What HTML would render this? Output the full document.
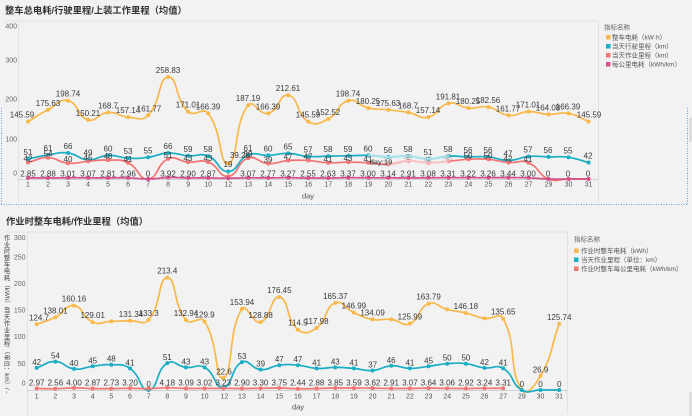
<!DOCTYPE html>
<html><head><meta charset="utf-8"><style>
html,body{margin:0;padding:0;background:#f2f2f2;}
#wrap{position:relative;width:692px;height:416px;overflow:hidden;background:#f2f2f2;font-family:"Liberation Sans","Noto Sans CJK SC",sans-serif;}
svg{position:absolute;left:0;top:0;}
</style></head><body><div id="wrap">
<svg width="692" height="416" viewBox="0 0 692 416" xmlns="http://www.w3.org/2000/svg" font-family="Liberation Sans, Noto Sans CJK SC, sans-serif">
<defs>
<marker id="mY" markerWidth="6" markerHeight="6" refX="3" refY="3" markerUnits="userSpaceOnUse"><circle cx="3" cy="3" r="2" fill="#f9b94a"/></marker>
<marker id="mT" markerWidth="6" markerHeight="6" refX="3" refY="3" markerUnits="userSpaceOnUse"><circle cx="3" cy="3" r="2" fill="#1aaec4"/></marker>
<marker id="mR" markerWidth="6" markerHeight="6" refX="3" refY="3" markerUnits="userSpaceOnUse"><circle cx="3" cy="3" r="2" fill="#f27575"/></marker>
<marker id="mM" markerWidth="6" markerHeight="6" refX="3" refY="3" markerUnits="userSpaceOnUse"><circle cx="3" cy="3" r="2" fill="#d4508a"/></marker>
</defs>
<rect x="0" y="0" width="692" height="416" fill="#f2f2f2"/>

<!-- titles -->
<text x="5" y="13.5" font-size="9.3" font-weight="bold" fill="#333">整车总电耗/行驶里程/上装工作里程（均值）</text>
<text x="6" y="224.5" font-size="9.3" font-weight="bold" fill="#333">作业时整车电耗/作业里程（均值）</text>

<!-- vertical y-axis title (bottom chart) -->
<g font-size="6.3" fill="#444" text-anchor="middle">
<text x="7" y="240.2">作</text><text x="7" y="246.8">业</text><text x="7" y="253.4">时</text><text x="7" y="260">整</text><text x="7" y="266.6">车</text><text x="7" y="273.2">电</text><text x="7" y="279.8">耗</text>
<text x="7" y="312.5">当</text><text x="7" y="319.1">天</text><text x="7" y="325.7">作</text><text x="7" y="332.3">业</text><text x="7" y="338.9">里</text><text x="7" y="345.5">程</text>
</g>
<g font-size="6.3" fill="#444">
<text transform="translate(4.8,281.5) rotate(90)" x="0" y="0">（kWh）/</text>
<text transform="translate(4.8,348) rotate(90)" x="0" y="0">（单位：km）/ -</text>
</g>

<!-- frames -->
<g stroke="#e2e2e2" stroke-width="1" fill="none">
<line x1="4" y1="21" x2="598" y2="21"/>
<line x1="18.5" y1="21" x2="18.5" y2="201"/>
<line x1="598.5" y1="21" x2="598.5" y2="203"/>
<line x1="6" y1="232" x2="568" y2="232"/>
<line x1="27.5" y1="232" x2="27.5" y2="416"/>
<line x1="567.5" y1="232" x2="567.5" y2="414"/>
</g>
<line x1="18" y1="179.5" x2="598" y2="179.5" stroke="#d0d0d0" stroke-width="1"/>
<line x1="27" y1="390.5" x2="567" y2="390.5" stroke="#d0d0d0" stroke-width="1"/>

<!-- selection box -->
<g stroke="#6d9fe0" stroke-width="1" stroke-dasharray="1,1.5" fill="none">
<line x1="1.5" y1="108" x2="1.5" y2="204"/>
<line x1="1" y1="204.5" x2="687" y2="204.5"/>
<line x1="687.5" y1="108" x2="687.5" y2="204"/>
</g>
<g stroke="#d6d6d6" stroke-width="2">
<line x1="690.5" y1="118" x2="690.5" y2="142"/>
<line x1="690.5" y1="392" x2="690.5" y2="416"/>
</g>

<!-- y axis labels -->
<g font-size="7" fill="#666" text-anchor="end">
<text x="17" y="28.5">400</text>
<text x="17" y="62.5">300</text>
<text x="17" y="101.5">200</text>
<text x="17" y="141.5">100</text>
<text x="17" y="175.5">0</text>
<text x="25.5" y="239.8">300</text>
<text x="25.5" y="259.5">250</text>
<text x="25.5" y="286">200</text>
<text x="25.5" y="312.5">150</text>
<text x="25.5" y="339.2">100</text>
<text x="25.5" y="365.8">50</text>
<text x="25.5" y="385.5">0</text>
</g>

<!-- x axis labels top -->
<g font-size="7" fill="#555" text-anchor="middle">
<text x="28" y="186.5">1</text><text x="48.02" y="186.5">2</text><text x="68.04" y="186.5">3</text><text x="88.06" y="186.5">4</text><text x="108.08" y="186.5">5</text><text x="128.1" y="186.5">6</text><text x="148.12" y="186.5">7</text><text x="168.14" y="186.5">8</text><text x="188.16" y="186.5">9</text><text x="208.18" y="186.5">10</text><text x="228.2" y="186.5">12</text><text x="248.22" y="186.5">13</text><text x="268.24" y="186.5">14</text><text x="288.26" y="186.5">15</text><text x="308.28" y="186.5">16</text><text x="328.3" y="186.5">17</text><text x="348.32" y="186.5">18</text><text x="368.34" y="186.5">19</text><text x="388.36" y="186.5">20</text><text x="408.38" y="186.5">21</text><text x="428.4" y="186.5">22</text><text x="448.42" y="186.5">23</text><text x="468.44" y="186.5">24</text><text x="488.46" y="186.5">25</text><text x="508.48" y="186.5">26</text><text x="528.5" y="186.5">27</text><text x="548.52" y="186.5">29</text><text x="568.54" y="186.5">30</text><text x="588.56" y="186.5">31</text>
<text x="308" y="198.5" font-size="7.5">day</text>
</g>
<!-- x axis labels bottom -->
<g font-size="7" fill="#555" text-anchor="middle">
<text x="36.7" y="398.5">1</text><text x="55.36" y="398.5">2</text><text x="74.02" y="398.5">3</text><text x="92.68" y="398.5">4</text><text x="111.34" y="398.5">5</text><text x="130" y="398.5">6</text><text x="148.66" y="398.5">7</text><text x="167.32" y="398.5">8</text><text x="185.98" y="398.5">9</text><text x="204.64" y="398.5">10</text><text x="224.5" y="398.5">12</text><text x="241.96" y="398.5">13</text><text x="260.62" y="398.5">14</text><text x="279.28" y="398.5">15</text><text x="297.94" y="398.5">16</text><text x="316.6" y="398.5">17</text><text x="335.26" y="398.5">18</text><text x="353.92" y="398.5">19</text><text x="372.58" y="398.5">20</text><text x="391.24" y="398.5">21</text><text x="409.9" y="398.5">22</text><text x="428.56" y="398.5">23</text><text x="447.22" y="398.5">24</text><text x="465.88" y="398.5">25</text><text x="484.54" y="398.5">26</text><text x="503.2" y="398.5">27</text><text x="521.86" y="398.5">29</text><text x="540.52" y="398.5">30</text><text x="559.18" y="398.5">31</text>
<text x="298" y="409.5" font-size="7.5">day</text>
</g>

<!-- TOP SERIES -->
<g fill="none" stroke-linejoin="round" stroke-linecap="round">
<polyline class="sm" stroke="#f9b94a" stroke-width="1.7" marker-start="url(#mY)" marker-mid="url(#mY)" marker-end="url(#mY)" points="28,121.6 48.02,109.8 68.04,100.7 88.06,119.8 108.08,112.5 128.1,117.1 148.12,115.3 168.14,77 188.16,111.6 208.18,113.4 228.2,163.5 248.22,105.2 268.24,113.4 288.26,95.2 308.28,121.6 328.3,118.9 348.32,100.7 368.34,108 388.36,109.8 408.38,112.5 428.4,117.1 448.42,103.4 468.44,108 488.46,107.1 508.48,115.3 528.5,111.6 548.52,114.4 568.54,113.4 588.56,121.6"/>
<polyline class="sm" stroke="#1aaec4" stroke-width="1.7" marker-start="url(#mT)" marker-mid="url(#mT)" marker-end="url(#mT)" points="28,158.9 48.02,155 68.04,153 88.06,159.7 108.08,155.4 128.1,158.1 148.12,157.3 168.14,153 188.16,155.8 208.18,156.1 228.2,171.5 248.22,155 268.24,155.4 288.26,153.4 308.28,156.5 328.3,156.1 348.32,155.8 368.34,155.4 388.36,156.9 408.38,156.1 428.4,158.9 448.42,156.1 468.44,156.9 488.46,156.9 508.48,160.5 528.5,156.5 548.52,156.9 568.54,157.3 588.56,162.5"/>
<polyline class="sm" stroke="#f27575" stroke-width="1.7" marker-start="url(#mR)" marker-mid="url(#mR)" marker-end="url(#mR)" points="28,162.5 48.02,157.7 68.04,163.2 88.06,161.3 108.08,160.1 128.1,162.8 148.12,179 168.14,158.9 188.16,162.1 208.18,162.1 228.2,176.2 248.22,158.1 268.24,163.6 288.26,160.5 308.28,160.5 328.3,162.8 348.32,162.1 368.34,162.8 388.36,164.4 408.38,160.9 428.4,162.8 448.42,161.3 468.44,159.3 488.46,159.3 508.48,162.5 528.5,162.8 548.52,179 568.54,179 588.56,179"/>
<polyline class="sm" stroke="#a6e3ec" stroke-width="2" points="368.34,155.4 388.36,156.9 408.38,156.1 428.4,158.9 448.42,156.1"/>
<polyline class="sm" stroke="#f7c4c4" stroke-width="2" points="388.36,164.4 408.38,160.9 428.4,162.8 448.42,161.3"/>
<polyline class="sm" stroke="#d4508a" stroke-width="1.7" marker-start="url(#mM)" marker-mid="url(#mM)" marker-end="url(#mM)" points="28,177.9 48.02,177.9 68.04,177.8 88.06,177.8 108.08,177.9 128.1,177.8 148.12,179 168.14,177.5 188.16,177.9 208.18,177.9 228.2,178.2 248.22,177.8 268.24,177.9 288.26,177.7 308.28,178 328.3,178 348.32,177.7 368.34,177.8 388.36,177.8 408.38,177.9 428.4,177.8 448.42,177.7 468.44,177.7 488.46,177.7 508.48,177.6 528.5,177.8 548.52,179 568.54,179 588.56,179"/>
</g>

<!-- top data labels -->
<g font-size="8" fill="#3a3a3a" text-anchor="middle">
<text x="22" y="117.6">145.59</text><text x="48" y="105.8">175.63</text><text x="68" y="96.7">198.74</text><text x="88" y="115.8">150.21</text><text x="108" y="108.5">168.7</text><text x="128" y="113.1">157.14</text><text x="149" y="111.3">161.77</text><text x="168" y="73">258.83</text><text x="188" y="107.6">171.01</text><text x="208" y="109.4">166.39</text><text x="240" y="158">39.28</text><text x="248" y="101.2">187.19</text><text x="268" y="109.4">166.39</text><text x="288" y="91.2">212.61</text><text x="308" y="117.6">145.59</text><text x="328" y="114.9">152.52</text><text x="348" y="96.7">198.74</text><text x="368" y="104">180.25</text><text x="388" y="105.8">175.63</text><text x="408" y="108.5">168.7</text><text x="428" y="113.1">157.14</text><text x="448" y="99.4">191.81</text><text x="468" y="104">180.25</text><text x="488" y="103.1">182.56</text><text x="508" y="111.3">161.77</text><text x="528" y="107.6">171.01</text><text x="548" y="110.4">164.08</text><text x="568" y="109.4">166.39</text><text x="589" y="117.6">145.59</text>
<text x="28" y="154.9">51</text><text x="48" y="151">61</text><text x="68" y="149">66</text><text x="88" y="155.7">49</text><text x="108" y="151.4">60</text><text x="128" y="154.1">53</text><text x="148" y="153.3">55</text><text x="168" y="149">66</text><text x="188" y="151.8">59</text><text x="208" y="152.1">58</text><text x="228" y="167">19</text><text x="248" y="151">61</text><text x="268" y="151.4">60</text><text x="288" y="149.4">65</text><text x="308" y="152.5">57</text><text x="328" y="152.1">58</text><text x="348" y="151.8">59</text><text x="368" y="151.4">60</text><text x="388" y="152.9">56</text><text x="408" y="152.1">58</text><text x="428" y="154.9">51</text><text x="448" y="152.1">58</text><text x="468" y="152.9">56</text><text x="488" y="152.9">56</text><text x="508" y="156.5">47</text><text x="528" y="152.5">57</text><text x="548" y="152.9">56</text><text x="568" y="153.3">55</text><text x="588" y="158.5">42</text>
<text x="28" y="161.5">42</text><text x="48" y="156.7">54</text><text x="68" y="162.2">40</text><text x="88" y="160.3">45</text><text x="108" y="159.1">48</text><text x="128" y="161.8">41</text><text x="168" y="157.9">51</text><text x="188" y="161.1">43</text><text x="208" y="161.1">43</text><text x="248" y="157.1">53</text><text x="268" y="162.6">39</text><text x="288" y="159.5">47</text><text x="308" y="159.5">47</text><text x="328" y="161.8">41</text><text x="348" y="161.1">43</text><text x="368" y="161.8">41</text><text x="468" y="158.3">50</text><text x="488" y="158.3">50</text><text x="508" y="161.5">42</text><text x="528" y="161.8">41</text>
<g fill="#b9b9b9"><text x="388" y="163.4">37</text><text x="408" y="159.9">46</text><text x="428" y="161.8">41</text><text x="448" y="160.3">45</text></g>
<text x="28" y="176.5">2.85</text><text x="48" y="176.5">2.88</text><text x="68" y="176.5">3.01</text><text x="88" y="176.5">3.07</text><text x="108" y="176.5">2.81</text><text x="128" y="176.5">2.96</text><text x="148" y="176.5">0</text><text x="168" y="176.5">3.92</text><text x="188" y="176.5">2.90</text><text x="208" y="176.5">2.87</text><text x="248" y="176.5">3.07</text><text x="268" y="176.5">2.77</text><text x="288" y="176.5">3.27</text><text x="308" y="176.5">2.55</text><text x="328" y="176.5">2.63</text><text x="348" y="176.5">3.37</text><text x="368" y="176.5">3.00</text><text x="388" y="176.5">3.14</text><text x="408" y="176.5">2.91</text><text x="428" y="176.5">3.08</text><text x="448" y="176.5">3.31</text><text x="468" y="176.5">3.22</text><text x="488" y="176.5">3.26</text><text x="508" y="176.5">3.44</text><text x="528" y="176.5">3.00</text><text x="548" y="176.5">0</text><text x="568" y="176.5">0</text><text x="588" y="176.5">0</text>
<text x="381" y="164.5" font-size="7.5" fill="#333">day:19</text>
</g>

<!-- BOTTOM SERIES -->
<g fill="none" stroke-linejoin="round" stroke-linecap="round">
<polyline class="sm" stroke="#f9b94a" stroke-width="1.7" marker-start="url(#mY)" marker-mid="url(#mY)" marker-end="url(#mY)" points="36.7,324.3 55.36,317.3 74.02,305.6 92.68,322.1 111.34,321.3 130,320.8 148.66,319.8 167.32,277.6 185.98,320 204.64,321.6 223.3,378.1 241.96,308.9 260.62,322.1 279.28,297.1 297.94,329.7 316.6,327.9 335.26,302.9 353.92,312.6 372.58,319.4 391.24,319.4 409.9,323.6 428.56,303.7 447.22,309.4 465.88,313 484.54,318.4 503.2,318.6 521.86,390 540.52,375.8 559.18,323.8"/>
<polyline class="sm" stroke="#1aaec4" stroke-width="1.7" marker-start="url(#mT)" marker-mid="url(#mT)" marker-end="url(#mT)" points="36.7,367.9 55.36,361.6 74.02,368.9 92.68,366.3 111.34,364.7 130,368.4 148.66,390 167.32,363.1 185.98,367.4 204.64,367.4 223.3,387.4 241.96,362.1 260.62,369.5 279.28,365.2 297.94,365.2 316.6,368.4 335.26,367.4 353.92,368.4 372.58,370.5 391.24,365.8 409.9,368.4 428.56,366.3 447.22,363.7 465.88,363.7 484.54,367.9 503.2,368.4 521.86,390 540.52,390 559.18,390"/>
<polyline class="sm" stroke="#f27575" stroke-width="1.7" marker-start="url(#mR)" marker-mid="url(#mR)" marker-end="url(#mR)" points="36.7,388.4 55.36,388.7 74.02,387.9 92.68,388.5 111.34,388.6 130,388.3 148.66,388.6 167.32,387.8 185.98,388.4 204.64,388.4 223.3,388.3 241.96,388.5 260.62,388.3 279.28,388 297.94,388.7 316.6,388.5 335.26,388 353.92,388.1 372.58,388.1 391.24,388.5 409.9,388.4 428.56,388.1 447.22,388.4 465.88,388.5 484.54,388.3 503.2,388.3"/>
</g>

<!-- bottom data labels -->
<g font-size="8" fill="#3a3a3a" text-anchor="middle">
<text x="39" y="320.3">124.7</text><text x="55.4" y="313.3">138.01</text><text x="74" y="301.6">160.16</text><text x="92.7" y="318.1">129.01</text><text x="131" y="316.8">131.34</text><text x="148.7" y="315.8">133.3</text><text x="167.3" y="273.6">213.4</text><text x="186" y="316">132.94</text><text x="204.6" y="317.6">129.9</text><text x="224" y="374.5">22.6</text><text x="242" y="304.9">153.94</text><text x="260.6" y="318.1">128.88</text><text x="279.3" y="293.1">176.45</text><text x="297.9" y="325.7">114.5</text><text x="316.6" y="323.9">117.98</text><text x="335.3" y="298.9">165.37</text><text x="353.9" y="308.6">146.99</text><text x="372.6" y="315.4">134.09</text><text x="409.9" y="319.6">125.99</text><text x="428.6" y="299.7">163.79</text><text x="465.9" y="309">146.18</text><text x="503.2" y="314.6">135.65</text><text x="540.5" y="372.3">26.9</text><text x="559.2" y="320">125.74</text>
<text x="36.7" y="364.9">42</text><text x="55.4" y="358.6">54</text><text x="74" y="365.9">40</text><text x="92.7" y="363.3">45</text><text x="111.3" y="361.7">48</text><text x="130" y="365.4">41</text><text x="148.7" y="386.8">0</text><text x="167.3" y="360.1">51</text><text x="186" y="364.4">43</text><text x="204.6" y="364.4">43</text><text x="242" y="359.1">53</text><text x="260.6" y="366.5">39</text><text x="279.3" y="362.2">47</text><text x="297.9" y="362.2">47</text><text x="316.6" y="365.4">41</text><text x="335.3" y="364.4">43</text><text x="353.9" y="365.4">41</text><text x="372.6" y="367.5">37</text><text x="391.2" y="362.8">46</text><text x="409.9" y="365.4">41</text><text x="428.6" y="363.3">45</text><text x="447.2" y="360.7">50</text><text x="465.9" y="360.7">50</text><text x="484.5" y="364.9">42</text><text x="503.2" y="365.4">41</text><text x="521.9" y="386.8">0</text><text x="540.5" y="386.8">0</text><text x="559.2" y="386.8">0</text>
<text x="36.7" y="385.5">2.97</text><text x="55.4" y="385.5">2.56</text><text x="74" y="385.5">4.00</text><text x="92.7" y="385.5">2.87</text><text x="111.3" y="385.5">2.73</text><text x="130" y="385.5">3.20</text><text x="167.3" y="385.5">4.18</text><text x="186" y="385.5">3.09</text><text x="204.6" y="385.5">3.02</text><text x="223.3" y="385.5">3.23</text><text x="242" y="385.5">2.90</text><text x="260.6" y="385.5">3.30</text><text x="279.3" y="385.5">3.75</text><text x="297.9" y="385.5">2.44</text><text x="316.6" y="385.5">2.88</text><text x="335.3" y="385.5">3.85</text><text x="353.9" y="385.5">3.59</text><text x="372.6" y="385.5">3.62</text><text x="391.2" y="385.5">2.91</text><text x="409.9" y="385.5">3.07</text><text x="428.6" y="385.5">3.64</text><text x="447.2" y="385.5">3.06</text><text x="465.9" y="385.5">2.92</text><text x="484.5" y="385.5">3.24</text><text x="503.2" y="385.5">3.31</text>
</g>

<!-- legends -->
<g font-size="6.5" fill="#555">
<text x="604" y="29.5" fill="#666">指标名称</text>
<rect x="606" y="35" width="4.5" height="4.5" fill="#f9b94a"/><text x="612" y="39.6">整车电耗（kW·h）</text>
<rect x="606" y="44" width="4.5" height="4.5" fill="#1aaec4"/><text x="612" y="48.6">当天行驶里程（km）</text>
<rect x="606" y="53" width="4.5" height="4.5" fill="#f27575"/><text x="612" y="57.6">当天作业里程（km）</text>
<rect x="606" y="62" width="4.5" height="4.5" fill="#d4508a"/><text x="612" y="66.6">每公里电耗（kWh/km）</text>
<text x="574" y="241.5" fill="#666">指标名称</text>
<rect x="574" y="248.5" width="4.5" height="4.5" fill="#f9b94a"/><text x="581" y="253">作业时整车电耗（kWh）</text>
<rect x="574" y="257.5" width="4.5" height="4.5" fill="#1aaec4"/><text x="581" y="262">当天作业里程（单位：km）</text>
<rect x="574" y="266.5" width="4.5" height="4.5" fill="#f27575"/><text x="581" y="271">作业时整车每公里电耗（kWh/km）</text>
</g>
</svg>
</div>
<script>
(function(){
var ns='http://www.w3.org/2000/svg';
var pls=document.querySelectorAll('polyline.sm');
for(var k=0;k<pls.length;k++){
 var pl=pls[k];
 var raw=pl.getAttribute('points').trim().split(/\s+/);
 var P=[];for(var i=0;i<raw.length;i++){var a=raw[i].split(',');P.push([parseFloat(a[0]),parseFloat(a[1])]);}
 var n=P.length,s=0.5,O=[],I=[];
 for(var i=0;i<n;i++){
  var p=P[i],pr=i>0?P[i-1]:p,nx=i<n-1?P[i+1]:p;
  var dx=(nx[0]-pr[0])*s,dy=(nx[1]-pr[1])*s;
  var l0=Math.sqrt((p[0]-pr[0])*(p[0]-pr[0])+(p[1]-pr[1])*(p[1]-pr[1]));
  var l1=Math.sqrt((nx[0]-p[0])*(nx[0]-p[0])+(nx[1]-p[1])*(nx[1]-p[1]));
  var r=(l0+l1)>0?l1/(l0+l1):0.5;
  O.push([p[0]+dx*r,p[1]+dy*r]);I.push([p[0]-dx*(1-r),p[1]-dy*(1-r)]);
 }
 var d='M'+P[0][0]+' '+P[0][1];
 for(var i=1;i<n;i++){d+=' C'+O[i-1][0].toFixed(2)+' '+O[i-1][1].toFixed(2)+' '+I[i][0].toFixed(2)+' '+I[i][1].toFixed(2)+' '+P[i][0]+' '+P[i][1];}
 var path=document.createElementNS(ns,'path');
 path.setAttribute('d',d);path.setAttribute('fill','none');
 path.setAttribute('stroke',pl.getAttribute('stroke'));
 path.setAttribute('stroke-width',pl.getAttribute('stroke-width'));
 path.setAttribute('stroke-linecap','round');
 pl.parentNode.insertBefore(path,pl);
 pl.setAttribute('stroke','none');
}
})();
</script>
</body></html>
